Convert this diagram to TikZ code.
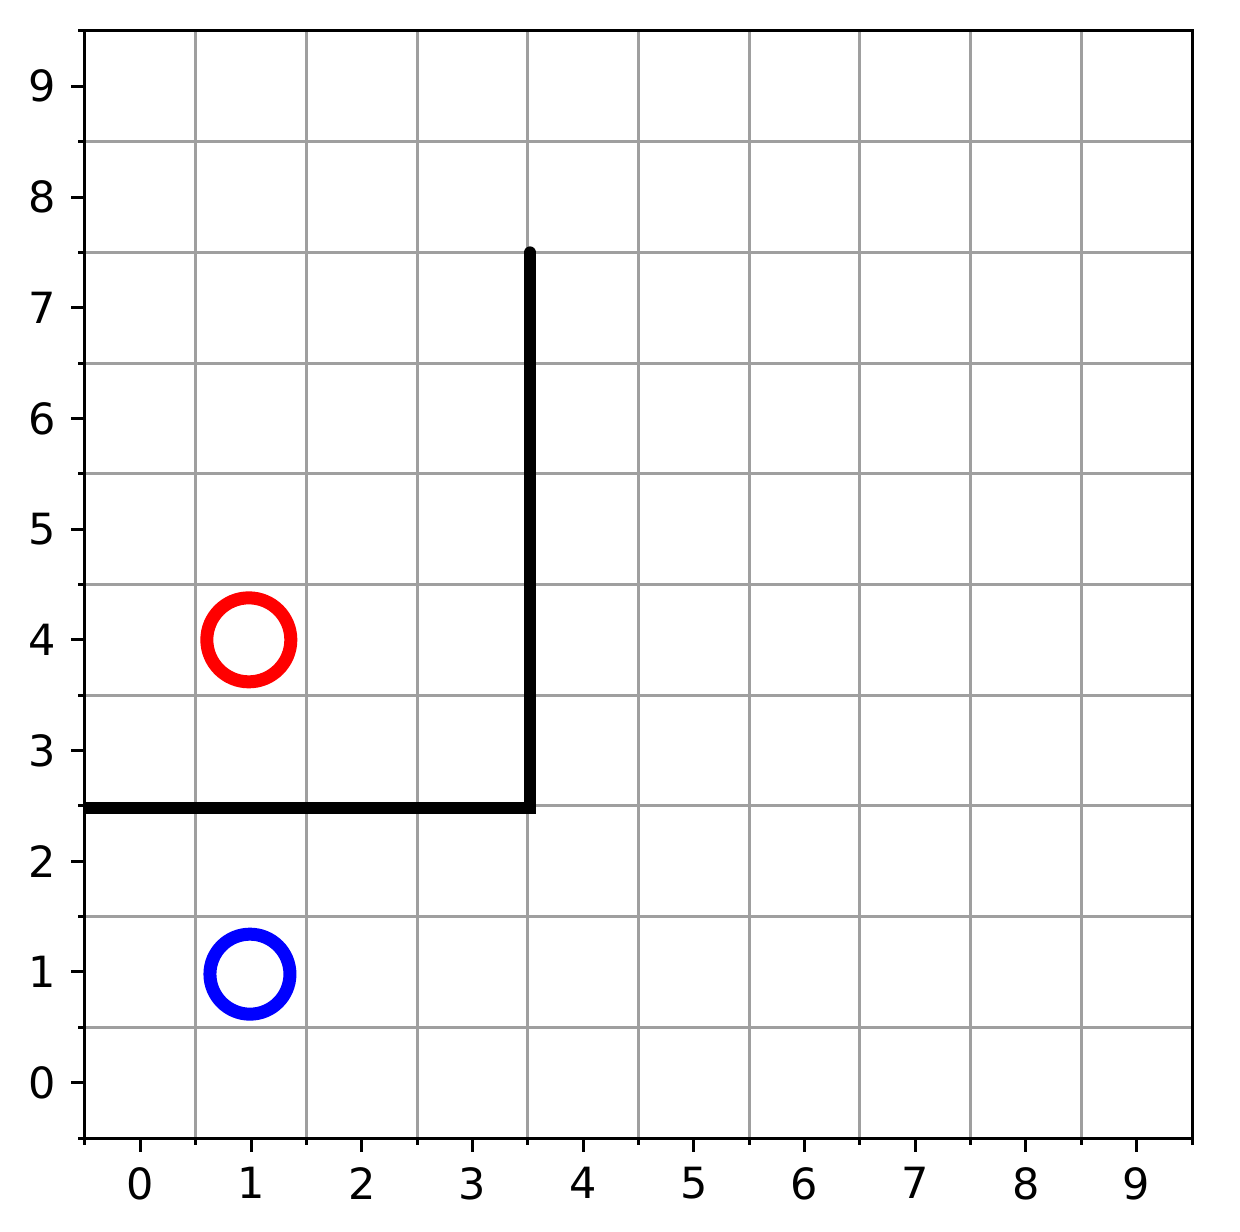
\documentclass[tikz,border=0pt]{standalone}
\usepackage{fontspec}
\setmainfont{DejaVu Sans}
\usetikzlibrary{arrows}

\tikzset{
  gridline/.style={draw=gray!75, line width=1.5pt},
  spine/.style={draw=black, line width=1.5pt},
  wall/.style={draw=black, line width=6pt, line cap=round},
  marker/.style={line width=6.5pt},
  ticklabel/.style={inner sep=0pt, font=\fontsize{21.5}{26}\selectfont}
}

\begin{document}
\begin{tikzpicture}[x=55.35pt,y=55.35pt]
\useasboundingbox (-1.2678,-1.349) rectangle (9.9336,9.78);

%Grid: lines at the half steps
\foreach \k in {0.5,1.5,...,8.5} {
  \draw[gridline] (\k,-0.5) -- (\k,9.5);
  \draw[gridline] (-0.5,\k) -- (9.5,\k);
}

%Shape: Wall
\begin{scope}
\clip (-0.5,-0.5) rectangle (9.5,9.5);
\draw[wall] (-0.5,2.48) -- (3.52,2.48) -- (3.52,7.5);
\end{scope}

%Shape: Circle (red)
\draw[marker, red] (0.98,4) circle (21pt);
%Shape: Circle (blue)
\draw[marker, blue] (0.99,0.98) circle (20pt);

%Ticks: major with labels
\foreach \k in {0,...,9} {
  \draw[spine] (\k,-0.5) -- ++(0,-7pt) node[ticklabel, anchor=north, yshift=-7pt] (xl\k) {\k};
  \draw[spine] (-0.5,\k) -- ++(-7pt,0) node[ticklabel, anchor=east, xshift=-7pt] (yl\k) {\k};
}
%Ticks: minor
\foreach \k in {-0.5,0.5,...,9.5} {
  \draw[spine] (\k,-0.5) -- ++(0,-3.5pt);
  \draw[spine] (-0.5,\k) -- ++(-3.5pt,0);
}

%Axes frame
\draw[spine] (-0.5,-0.5) rectangle (9.5,9.5);

\end{tikzpicture}
\end{document}
